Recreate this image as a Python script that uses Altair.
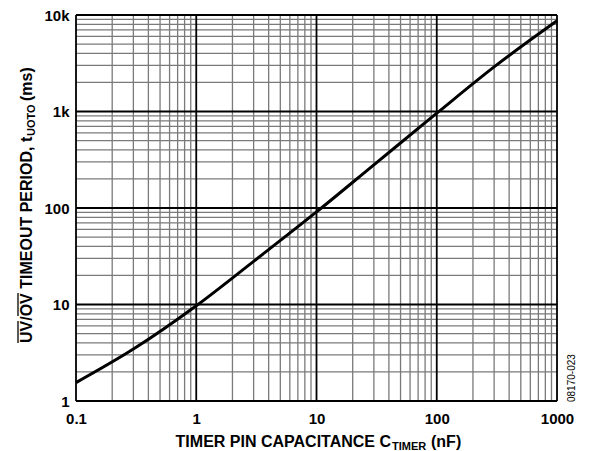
import altair as alt
import pandas as pd

# ---- data ----
cap_nf = [0.1, 0.3, 1, 3, 10, 30, 100, 300, 1000]
timeout_ms = [1.55, 3.45, 9.7, 28, 91, 280, 960, 2900, 8700]

x_major = [0.1, 1, 10, 100, 1000]
x_minor = [0.2, 0.3, 0.4, 0.5, 0.6, 0.7, 0.8, 0.9,
           2, 3, 4, 5, 6, 7, 8, 9,
           20, 30, 40, 50, 60, 70, 80, 90,
           200, 300, 400, 500, 600, 700, 800, 900]
y_major = [1, 10, 100, 1000, 10000]
y_minor = [2, 3, 4, 5, 6, 7, 8, 9,
           20, 30, 40, 50, 60, 70, 80, 90,
           200, 300, 400, 500, 600, 700, 800, 900,
           2000, 3000, 4000, 5000, 6000, 7000, 8000, 9000]
x_tick_labels = ["0.1", "1", "10", "100", "1000"]
y_tick_labels = ["1", "10", "100", "1k", "10k"]

FONT = "Liberation Sans"
W, H = 481, 386

line_df = pd.DataFrame({"c": cap_nf, "t": timeout_ms})
one = pd.DataFrame({"k": [0]})

xscale = alt.Scale(type="log", domain=[0.1, 1000], nice=False)
yscale = alt.Scale(type="log", domain=[1, 10000], nice=False)

def label_expr(vals, labels):
    parts = " : ".join(f"datum.value == {v} ? '{l}'" for v, l in zip(vals, labels))
    return parts + " : ''"

xaxis = alt.Axis(values=x_major, labelExpr=label_expr(x_major, x_tick_labels), title=None,
                 domain=False, ticks=False, grid=False, labelFont=FONT, labelFontSize=15,
                 labelFontWeight="bold", labelColor="black", labelPadding=10,
                 labelFlush=False, labelOverlap=False)
yaxis = alt.Axis(values=y_major, labelExpr=label_expr(y_major, y_tick_labels), title=None,
                 domain=False, ticks=False, grid=False, labelFont=FONT, labelFontSize=15,
                 labelFontWeight="bold", labelColor="black", labelPadding=7,
                 labelFlush=False, labelOverlap=False)

minor_x = alt.Chart(pd.DataFrame({"v": x_minor})).mark_rule(color="#7a7a7a", strokeWidth=1.3).encode(
    x=alt.X("v:Q", scale=xscale, axis=xaxis))
minor_y = alt.Chart(pd.DataFrame({"v": y_minor})).mark_rule(color="#7a7a7a", strokeWidth=1.3).encode(
    y=alt.Y("v:Q", scale=yscale, axis=yaxis))
major_x = alt.Chart(pd.DataFrame({"v": x_major})).mark_rule(color="black", strokeWidth=1.8).encode(
    x=alt.X("v:Q", scale=xscale))
major_y = alt.Chart(pd.DataFrame({"v": y_major})).mark_rule(color="black", strokeWidth=1.8).encode(
    y=alt.Y("v:Q", scale=yscale))

curve = alt.Chart(line_df).mark_line(color="black", strokeWidth=3, interpolate="monotone").encode(
    x=alt.X("c:Q", scale=xscale), y=alt.Y("t:Q", scale=yscale))

def txt(s, x, y, size=16, weight="bold", angle=0, align="left", baseline="alphabetic"):
    kw = dict(font=FONT, fontSize=size, fontWeight=weight, align=align, baseline=baseline, color="black")
    if angle:
        kw["angle"] = angle
    return alt.Chart(one).mark_text(**kw).encode(x=alt.value(x), y=alt.value(y), text=alt.value(s))

def seg(x1, x2, y1, y2, w=1.3):
    return alt.Chart(one).mark_rule(color="black", strokeWidth=w).encode(
        x=alt.value(x1), x2=alt.value(x2), y=alt.value(y1), y2=alt.value(y2))

# x title pieces (plot coordinates)
xt_a = txt("TIMER PIN CAPACITANCE C", 315, 432, align="right")
xt_b = txt("TIMER", 316, 435, size=11)
xt_c = txt("(nF)", 355, 432)

# y title pieces (rotated)
yt_a = txt("UV/OV TIMEOUT PERIOD, t", -44, 328, angle=270)
yt_b = txt("UOTO", -41, 121, size=11, angle=270)
yt_c = txt("(ms)", -44, 86, angle=270)
ov1 = seg(-58, -58, 328, 306)
ov2 = seg(-58, -58, 301, 278)

code = txt("08170-023", 499, 387, size=10, weight="normal", angle=270)

chart = alt.layer(minor_x, minor_y, major_x, major_y, curve,
                  xt_a, xt_b, xt_c, yt_a, yt_b, yt_c, ov1, ov2, code).properties(
    width=W, height=H,
    autosize=alt.AutoSizeParams(type="none"),
    padding={"left": 68, "top": 7, "right": 25, "bottom": 50},
).configure_view(stroke="black", strokeWidth=2.2).configure(background="white")

chart.save("out.html", embed_options={"renderer": "svg", "actions": False})
